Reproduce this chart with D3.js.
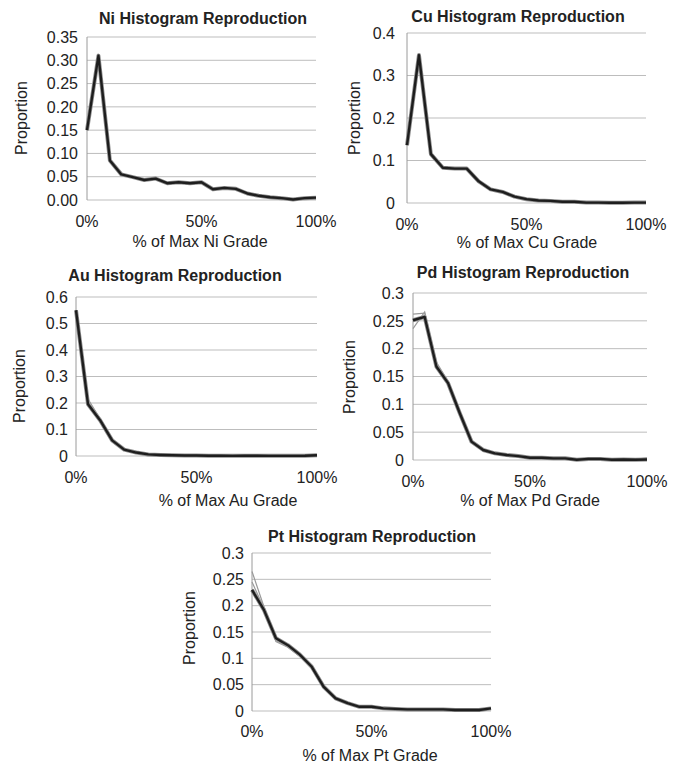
<!DOCTYPE html>
<html>
<head>
<meta charset="utf-8">
<script src="https://cdn.jsdelivr.net/npm/d3@7"></script>
<style>
  body { margin: 0; background: #fff; }
  svg { display: block; font-family: "Liberation Sans", Arial, sans-serif; }
</style>
</head>
<body>
<svg id="chart"></svg>
<script>
const WIDTH = 681;
const HEIGHT = 768;

// x positions: % of max grade, one histogram class every 5%
var gradePct = [0, 5, 10, 15, 20, 25, 30, 35, 40, 45, 50, 55, 60, 65, 70, 75, 80, 85, 90, 95, 100];
var xTickValues = [0, 50, 100];

// reference histograms (black line)
var niProp = [0.150, 0.310, 0.085, 0.055, 0.049, 0.043, 0.046, 0.036, 0.038, 0.036, 0.038, 0.023, 0.026, 0.024, 0.014, 0.009, 0.006, 0.004, 0.001, 0.004, 0.005];
var cuProp = [0.136, 0.348, 0.115, 0.083, 0.081, 0.081, 0.051, 0.032, 0.026, 0.015, 0.009, 0.006, 0.005, 0.003, 0.003, 0.001, 0.001, 0.0005, 0.0005, 0.001, 0.001];
var auProp = [0.550, 0.195, 0.135, 0.059, 0.024, 0.013, 0.006, 0.004, 0.003, 0.002, 0.002, 0.001, 0.001, 0.0005, 0.001, 0.001, 0.0005, 0.0005, 0.0005, 0.001, 0.003];
var pdProp = [0.251, 0.257, 0.168, 0.138, 0.084, 0.033, 0.018, 0.012, 0.009, 0.007, 0.004, 0.004, 0.003, 0.003, 0.0005, 0.002, 0.002, 0.0005, 0.001, 0.0005, 0.001];
var ptProp = [0.230, 0.192, 0.138, 0.125, 0.107, 0.084, 0.046, 0.024, 0.015, 0.008, 0.008, 0.005, 0.004, 0.003, 0.003, 0.003, 0.003, 0.002, 0.002, 0.002, 0.005];

// a few of the grey realizations where they stand out from the black line
var auSimA = [0.550, 0.215, 0.140, 0.062, 0.025, 0.013, 0.006, 0.004, 0.003, 0.002, 0.002, 0.001, 0.001, 0.0005, 0.001, 0.001, 0.0005, 0.0005, 0.0005, 0.001, 0.003];
var pdSimA = [0.262, 0.264, 0.176, 0.141, 0.086, 0.034, 0.019, 0.012, 0.009, 0.007, 0.004, 0.004, 0.003, 0.003, 0.001, 0.002, 0.002, 0.001, 0.001, 0.001, 0.004];
var pdSimB = [0.236, 0.266, 0.172, 0.136, 0.083, 0.032, 0.018, 0.012, 0.009, 0.007, 0.004, 0.004, 0.003, 0.002, 0.0005, 0.002, 0.002, 0.0005, 0.001, 0.0005, 0.001];
var ptSimA = [0.265, 0.198, 0.132, 0.121, 0.104, 0.082, 0.045, 0.024, 0.015, 0.008, 0.008, 0.005, 0.004, 0.003, 0.003, 0.003, 0.003, 0.002, 0.002, 0.002, 0.005];
var ptSimB = [0.245, 0.195, 0.134, 0.123, 0.105, 0.083, 0.046, 0.024, 0.015, 0.008, 0.008, 0.005, 0.004, 0.003, 0.003, 0.003, 0.003, 0.002, 0.002, 0.002, 0.004];

// y tick values
var niTicks = [0, 0.05, 0.10, 0.15, 0.20, 0.25, 0.30, 0.35];
var cuTicks = [0, 0.1, 0.2, 0.3, 0.4];
var auTicks = [0, 0.1, 0.2, 0.3, 0.4, 0.5, 0.6];
var pdTicks = [0, 0.05, 0.1, 0.15, 0.2, 0.25, 0.3];
var ptTicks = [0, 0.05, 0.1, 0.15, 0.2, 0.25, 0.3];

var panels = [
  { metal: 'Ni', values: niProp, sims: [], ticks: niTicks, fmt: d3.format('.2f'),
    box: { l: 87, r: 316, t: 37, b: 200 }, tickX: 78, titleY: 24, titleX: 203,
    xLabY: 227, xTitleX: 200, xTitleY: 247, yTitleX: 27, yTitleY: 118 },
  { metal: 'Cu', values: cuProp, sims: [], ticks: cuTicks, fmt: String,
    box: { l: 407, r: 646, t: 33, b: 203 }, tickX: 395, titleY: 22, titleX: 518,
    xLabY: 230, xTitleX: 527, xTitleY: 248, yTitleX: 360, yTitleY: 118 },
  { metal: 'Au', values: auProp, sims: [auSimA], ticks: auTicks, fmt: String,
    box: { l: 76, r: 317, t: 297, b: 456 }, tickX: 68, titleY: 281, titleX: 175,
    xLabY: 483, xTitleX: 228, xTitleY: 506, yTitleX: 25, yTitleY: 386 },
  { metal: 'Pd', values: pdProp, sims: [pdSimA, pdSimB], ticks: pdTicks, fmt: String,
    box: { l: 413, r: 647, t: 293, b: 460 }, tickX: 404, titleY: 278, titleX: 523,
    xLabY: 487, xTitleX: 530, xTitleY: 506, yTitleX: 355, yTitleY: 377 },
  { metal: 'Pt', values: ptProp, sims: [ptSimA, ptSimB], ticks: ptTicks, fmt: String,
    box: { l: 252, r: 491, t: 553, b: 711 }, tickX: 244, titleY: 542, titleX: 372,
    xLabY: 737, xTitleX: 370, xTitleY: 761, yTitleX: 195, yTitleY: 628 }
];

var svg = d3.select('#chart')
  .attr('width', WIDTH)
  .attr('height', HEIGHT);

panels.forEach(function(p) {
  var g = svg.append('g');
  var x = d3.scaleLinear().domain([0, 100]).range([p.box.l, p.box.r]);
  var y = d3.scaleLinear().domain([0, d3.max(p.ticks)]).range([p.box.b, p.box.t]);

  // gridlines
  g.selectAll('line.grid')
    .data(p.ticks)
    .enter().append('line')
    .attr('x1', p.box.l).attr('x2', p.box.r)
    .attr('y1', function(d) { return y(d); })
    .attr('y2', function(d) { return y(d); })
    .attr('stroke', '#bdbdbd')
    .attr('stroke-width', 1);

  // y axis line
  g.append('line')
    .attr('x1', p.box.l).attr('x2', p.box.l)
    .attr('y1', p.box.t).attr('y2', p.box.b)
    .attr('stroke', '#9a9a9a');

  // y tick labels
  g.selectAll('text.ytick')
    .data(p.ticks)
    .enter().append('text')
    .attr('x', p.tickX)
    .attr('y', function(d) { return y(d); })
    .attr('dy', '0.36em')
    .attr('text-anchor', 'end')
    .attr('font-size', 16)
    .attr('fill', '#222')
    .text(function(d) { return p.fmt(d); });

  // x tick labels
  g.selectAll('text.xtick')
    .data(xTickValues)
    .enter().append('text')
    .attr('x', function(d) { return x(d); })
    .attr('y', p.xLabY)
    .attr('text-anchor', 'middle')
    .attr('font-size', 16)
    .attr('fill', '#222')
    .text(function(d) { return d + '%'; });

  var line = d3.line()
    .x(function(d, i) { return x(gradePct[i]); })
    .y(function(d) { return y(d); });

  // grey halo of the realizations
  g.append('path')
    .datum(p.values)
    .attr('d', line)
    .attr('fill', 'none')
    .attr('stroke', '#8c8c8c')
    .attr('stroke-width', 4)
    .attr('stroke-linejoin', 'round');

  g.selectAll('path.sim')
    .data(p.sims)
    .enter().append('path')
    .attr('d', line)
    .attr('fill', 'none')
    .attr('stroke', '#9a9a9a')
    .attr('stroke-width', 1.2);

  // reference histogram
  g.append('path')
    .datum(p.values)
    .attr('d', line)
    .attr('fill', 'none')
    .attr('stroke', '#1e1e1e')
    .attr('stroke-width', 2.4)
    .attr('stroke-linejoin', 'round');

  // titles
  g.append('text')
    .attr('x', p.titleX).attr('y', p.titleY)
    .attr('text-anchor', 'middle')
    .attr('font-size', 16)
    .attr('font-weight', 'bold')
    .attr('fill', '#222')
    .text(p.metal + ' Histogram Reproduction');

  g.append('text')
    .attr('x', p.xTitleX).attr('y', p.xTitleY)
    .attr('text-anchor', 'middle')
    .attr('font-size', 16)
    .attr('fill', '#222')
    .text('% of Max ' + p.metal + ' Grade');

  g.append('text')
    .attr('transform', 'translate(' + p.yTitleX + ',' + p.yTitleY + ') rotate(-90)')
    .attr('text-anchor', 'middle')
    .attr('font-size', 16)
    .attr('fill', '#222')
    .text('Proportion');
});
</script>
</body>
</html>
